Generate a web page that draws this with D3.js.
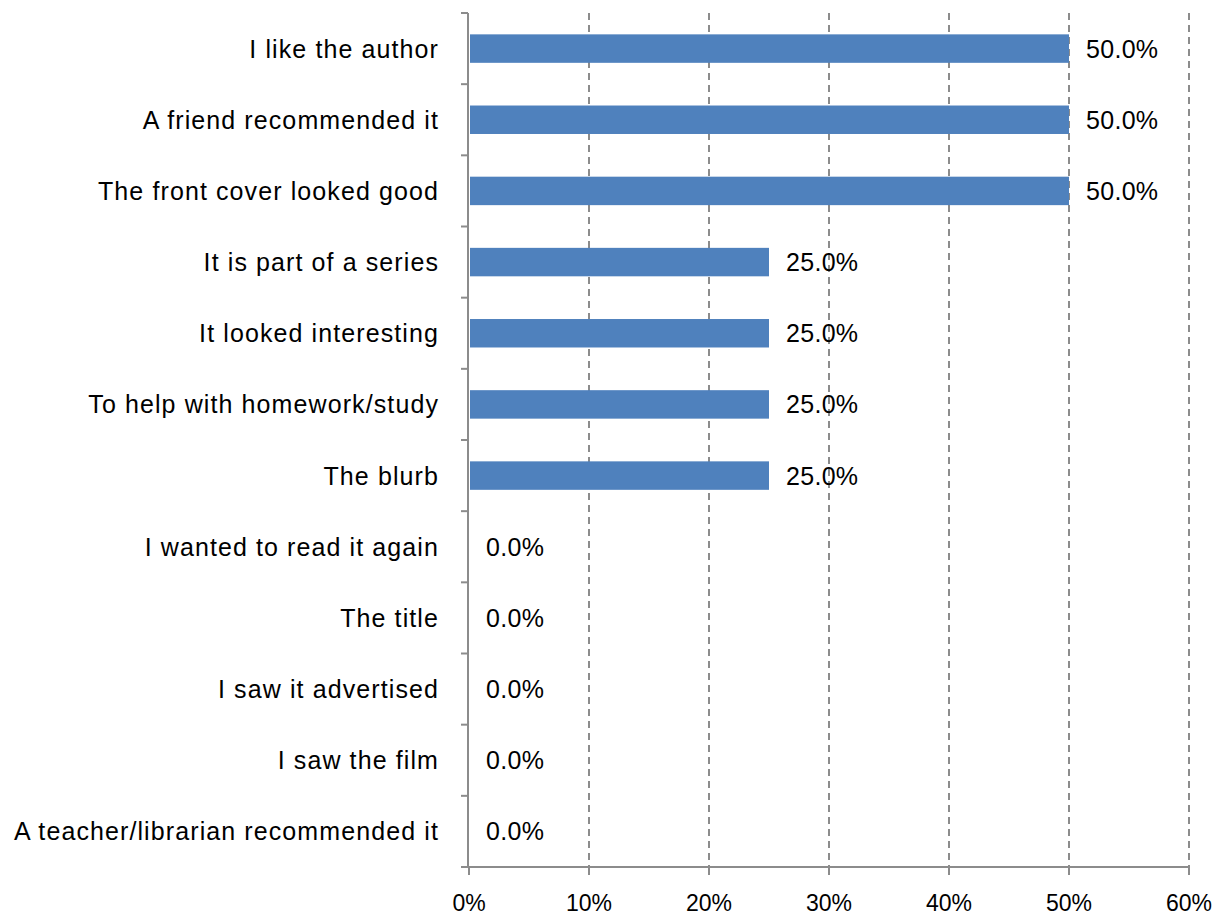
<!DOCTYPE html>
<html><head><meta charset="utf-8">
<script src="https://cdn.jsdelivr.net/npm/d3@7"></script>
<style>body{margin:0;background:#fff}svg{display:block}text{font-family:"Liberation Sans",Arial,sans-serif;fill:#000}</style>
</head><body>
<svg id="c" width="1224" height="920"></svg>
<script>
const categories = ["I like the author","A friend recommended it","The front cover looked good","It is part of a series","It looked interesting","To help with homework/study","The blurb","I wanted to read it again","The title","I saw it advertised","I saw the film","A teacher/librarian recommended it"];
const values = [0.5,0.5,0.5,0.25,0.25,0.25,0.25,0,0,0,0,0];
const xTicks = [0,0.1,0.2,0.3,0.4,0.5,0.6];

(function(){
const svg = d3.select("#c");
const pL = 469, pR = 1189, pT = 13, pB = 867;
const x = d3.scaleLinear().domain([0,0.6]).range([pL,pR]);
const y = d3.scaleBand().domain(categories).range([pT,pB]).paddingInner(0.6).paddingOuter(0.3);
const band = d3.scaleBand().domain(categories).range([pT,pB]);

// gridlines
svg.append("g").selectAll("line").data(xTicks.slice(1)).join("line")
  .attr("x1",d=>x(d)).attr("x2",d=>x(d)).attr("y1",pT).attr("y2",pB)
  .attr("stroke","#8c8c8c").attr("stroke-width",2).attr("stroke-dasharray","7,5");

// bars
svg.append("g").selectAll("rect").data(values).join("rect")
  .attr("x",x(0)+1).attr("y",(d,i)=>y(categories[i]))
  .attr("width",d=>Math.max(0,x(d)-x(0)-1)).attr("height",y.bandwidth())
  .attr("fill","#4F81BD");

// value labels
svg.append("g").selectAll("text").data(values).join("text")
  .attr("x",d=>x(d)+17).attr("y",(d,i)=>band(categories[i])+band.bandwidth()/2)
  .attr("dy","0.36em").attr("font-size",25).attr("letter-spacing",0.3).text(d=>d3.format(".1%")(d));

// y axis
const ya = svg.append("g");
ya.append("line").attr("x1",pL-1).attr("x2",pL-1).attr("y1",pT).attr("y2",pB).attr("stroke","#8c8c8c").attr("stroke-width",2);
const bounds = categories.map(c=>band(c)).concat([pB]);
ya.selectAll("line.t").data(bounds).join("line").attr("class","t")
  .attr("x1",pL-8).attr("x2",pL-1).attr("y1",d=>d).attr("y2",d=>d).attr("stroke","#8c8c8c").attr("stroke-width",2);
ya.selectAll("text").data(categories).join("text")
  .attr("x",439).attr("y",d=>band(d)+band.bandwidth()/2).attr("dy","0.36em")
  .attr("text-anchor","end").attr("font-size",25).attr("letter-spacing",1.1).text(d=>d);

// x axis
const xa = svg.append("g");
xa.append("line").attr("x1",pL-8).attr("x2",pR).attr("y1",pB).attr("y2",pB).attr("stroke","#8c8c8c").attr("stroke-width",2);
xa.selectAll("line.t").data(xTicks).join("line").attr("class","t")
  .attr("x1",d=>x(d)).attr("x2",d=>x(d)).attr("y1",pB).attr("y2",pB+8).attr("stroke","#8c8c8c").attr("stroke-width",2);
xa.selectAll("text").data(xTicks).join("text")
  .attr("x",d=>x(d)).attr("y",911).attr("text-anchor","middle").attr("font-size",23).text(d=>d3.format(".0%")(d));
})();
</script>
</body></html>
